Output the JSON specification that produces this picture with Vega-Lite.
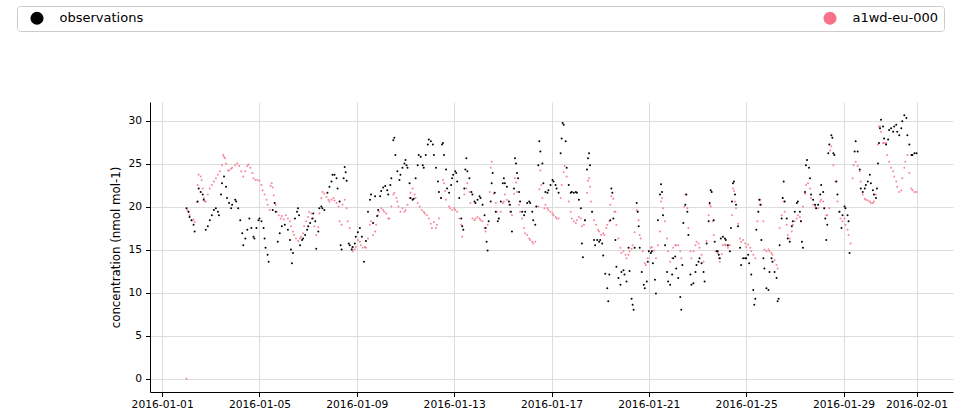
{
"$schema":"https://vega.github.io/schema/vega-lite/v6.json",
"autosize":{"type":"none"},
"padding":{"left":150,"top":102,"right":23,"bottom":25},
"width":803,"height":290,
"config":{"view":{"stroke":null},"font":"DejaVu Sans",
"axis":{"domainColor":"#000","domainWidth":1,"tickColor":"#000","tickSize":4.5,"labelFont":"DejaVu Sans","labelFontSize":10.7,"labelColor":"#000","titleFont":"DejaVu Sans","titleFontSize":11.8,"titleFontWeight":"normal","titleColor":"#000","gridColor":"#dddddd","gridWidth":1},
"legend":{"orient":"none","legendX":-133,"legendY":-96,"direction":"horizontal","columns":2,"columnPadding":672,"padding":5.5,"strokeColor":"#cccccc","fillColor":"#ffffff","cornerRadius":3,"symbolSize":169,"symbolType":"circle","symbolStrokeWidth":0,"symbolOffset":8,"symbolOpacity":1,"labelFont":"DejaVu Sans","labelFontSize":13,"labelColor":"#000","labelOffset":16,"labelLimit":0,"title":null}},
"datasets":{
"obs":[{"h":24,"v":19.8},{"h":26,"v":19.4},{"h":27,"v":18.8},{"h":29,"v":18.4},{"h":31,"v":17.9},{"h":32,"v":17.1},{"h":35,"v":20.6},{"h":36,"v":22.1},{"h":38,"v":21.7},{"h":40,"v":21.4},{"h":41,"v":20.8},{"h":43,"v":17.3},{"h":45,"v":17.7},{"h":47,"v":18.4},{"h":49,"v":19.0},{"h":51,"v":19.6},{"h":53,"v":19.8},{"h":55,"v":19.4},{"h":56,"v":19.0},{"h":58,"v":21.4},{"h":59,"v":22.7},{"h":61,"v":23.5},{"h":63,"v":22.3},{"h":64,"v":21.0},{"h":66,"v":20.4},{"h":68,"v":19.8},{"h":69,"v":20.2},{"h":72,"v":20.8},{"h":73,"v":20.6},{"h":75,"v":19.8},{"h":77,"v":18.4},{"h":79,"v":16.9},{"h":80,"v":15.5},{"h":82,"v":16.3},{"h":84,"v":17.3},{"h":86,"v":18.6},{"h":88,"v":17.5},{"h":90,"v":16.5},{"h":91,"v":16.3},{"h":93,"v":17.5},{"h":95,"v":18.4},{"h":96,"v":18.6},{"h":98,"v":18.3},{"h":100,"v":17.5},{"h":101,"v":16.3},{"h":102,"v":15.2},{"h":104,"v":14.4},{"h":105,"v":13.6},{"h":109,"v":19.6},{"h":111,"v":20.4},{"h":112,"v":19.4},{"h":114,"v":15.9},{"h":116,"v":16.9},{"h":118,"v":17.7},{"h":121,"v":17.9},{"h":124,"v":17.3},{"h":126,"v":16.1},{"h":127,"v":15.0},{"h":128,"v":13.4},{"h":129,"v":14.6},{"h":131,"v":18.6},{"h":133,"v":19.4},{"h":134,"v":19.8},{"h":135,"v":19.0},{"h":136,"v":15.5},{"h":138,"v":16.1},{"h":139,"v":16.3},{"h":141,"v":16.7},{"h":143,"v":17.3},{"h":144,"v":17.7},{"h":146,"v":18.1},{"h":148,"v":18.6},{"h":149,"v":19.2},{"h":151,"v":18.3},{"h":152,"v":15.1},{"h":154,"v":17.1},{"h":155,"v":19.8},{"h":157,"v":20.0},{"h":158,"v":19.8},{"h":160,"v":19.6},{"h":163,"v":21.6},{"h":165,"v":22.3},{"h":167,"v":22.9},{"h":168,"v":23.7},{"h":170,"v":23.7},{"h":172,"v":23.3},{"h":173,"v":22.1},{"h":175,"v":20.6},{"h":176,"v":15.5},{"h":177,"v":15.0},{"h":179,"v":23.3},{"h":180,"v":24.6},{"h":181,"v":24.0},{"h":182,"v":23.0},{"h":184,"v":15.7},{"h":185,"v":15.5},{"h":187,"v":15.0},{"h":188,"v":15.3},{"h":190,"v":15.7},{"h":191,"v":16.5},{"h":193,"v":17.0},{"h":195,"v":17.5},{"h":197,"v":16.5},{"h":199,"v":13.6},{"h":201,"v":16.0},{"h":203,"v":19.4},{"h":205,"v":20.8},{"h":206,"v":21.4},{"h":208,"v":18.1},{"h":210,"v":21.2},{"h":212,"v":18.9},{"h":213,"v":19.6},{"h":215,"v":21.2},{"h":216,"v":21.8},{"h":218,"v":22.2},{"h":220,"v":22.4},{"h":222,"v":21.9},{"h":223,"v":21.4},{"h":225,"v":22.5},{"h":226,"v":23.3},{"h":228,"v":27.7},{"h":229,"v":28.0},{"h":230,"v":26.0},{"h":232,"v":24.1},{"h":234,"v":23.1},{"h":235,"v":23.7},{"h":237,"v":24.5},{"h":239,"v":25.0},{"h":240,"v":25.4},{"h":241,"v":24.8},{"h":242,"v":24.5},{"h":244,"v":22.7},{"h":245,"v":21.0},{"h":247,"v":20.8},{"h":248,"v":20.9},{"h":250,"v":23.3},{"h":252,"v":24.8},{"h":253,"v":26.0},{"h":255,"v":25.8},{"h":257,"v":24.8},{"h":258,"v":24.5},{"h":260,"v":26.0},{"h":262,"v":27.2},{"h":263,"v":27.8},{"h":265,"v":27.6},{"h":267,"v":27.2},{"h":268,"v":26.0},{"h":270,"v":24.5},{"h":272,"v":22.9},{"h":273,"v":21.7},{"h":275,"v":21.0},{"h":276,"v":27.2},{"h":277,"v":27.4},{"h":278,"v":26.0},{"h":280,"v":24.3},{"h":281,"v":22.1},{"h":283,"v":21.6},{"h":285,"v":22.5},{"h":286,"v":23.3},{"h":287,"v":23.7},{"h":289,"v":24.1},{"h":290,"v":23.9},{"h":291,"v":22.9},{"h":293,"v":21.0},{"h":295,"v":18.6},{"h":296,"v":17.7},{"h":297,"v":17.3},{"h":298,"v":22.1},{"h":299,"v":24.3},{"h":300,"v":25.6},{"h":301,"v":24.1},{"h":303,"v":23.3},{"h":305,"v":21.7},{"h":306,"v":21.4},{"h":308,"v":20.6},{"h":309,"v":20.4},{"h":311,"v":20.8},{"h":313,"v":21.2},{"h":314,"v":21.0},{"h":316,"v":20.2},{"h":318,"v":19.0},{"h":319,"v":17.5},{"h":320,"v":15.9},{"h":321,"v":14.9},{"h":322,"v":18.3},{"h":324,"v":20.6},{"h":325,"v":22.7},{"h":326,"v":23.9},{"h":328,"v":21.6},{"h":329,"v":19.4},{"h":331,"v":18.3},{"h":332,"v":18.6},{"h":334,"v":20.6},{"h":336,"v":22.7},{"h":337,"v":23.3},{"h":338,"v":22.7},{"h":340,"v":22.3},{"h":342,"v":20.6},{"h":343,"v":20.2},{"h":344,"v":19.4},{"h":345,"v":17.1},{"h":347,"v":22.1},{"h":348,"v":25.6},{"h":349,"v":25.0},{"h":350,"v":23.9},{"h":351,"v":23.3},{"h":352,"v":21.7},{"h":353,"v":20.6},{"h":355,"v":19.4},{"h":357,"v":19.0},{"h":358,"v":19.4},{"h":360,"v":20.4},{"h":362,"v":20.6},{"h":363,"v":20.4},{"h":365,"v":19.4},{"h":366,"v":18.4},{"h":368,"v":17.9},{"h":369,"v":20.0},{"h":371,"v":24.8},{"h":372,"v":27.6},{"h":373,"v":26.4},{"h":375,"v":25.0},{"h":376,"v":22.7},{"h":378,"v":21.7},{"h":380,"v":21.6},{"h":381,"v":21.9},{"h":383,"v":22.5},{"h":385,"v":23.1},{"h":386,"v":22.9},{"h":388,"v":22.5},{"h":389,"v":22.1},{"h":391,"v":21.6},{"h":393,"v":26.2},{"h":394,"v":27.9},{"h":395,"v":29.7},{"h":396,"v":29.5},{"h":398,"v":27.6},{"h":399,"v":24.5},{"h":401,"v":22.5},{"h":403,"v":21.6},{"h":404,"v":21.7},{"h":406,"v":21.6},{"h":408,"v":21.7},{"h":409,"v":21.6},{"h":411,"v":20.8},{"h":413,"v":19.8},{"h":414,"v":15.7},{"h":415,"v":14.1},{"h":417,"v":18.4},{"h":419,"v":24.3},{"h":420,"v":25.6},{"h":421,"v":26.2},{"h":422,"v":24.8},{"h":424,"v":19.4},{"h":426,"v":16.1},{"h":427,"v":15.5},{"h":429,"v":16.1},{"h":431,"v":15.9},{"h":432,"v":16.1},{"h":434,"v":15.7},{"h":435,"v":14.3},{"h":437,"v":12.2},{"h":439,"v":10.5},{"h":440,"v":9.0},{"h":441,"v":12.1},{"h":442,"v":18.4},{"h":443,"v":22.1},{"h":444,"v":21.6},{"h":445,"v":18.6},{"h":447,"v":16.1},{"h":448,"v":13.0},{"h":450,"v":11.7},{"h":452,"v":10.9},{"h":453,"v":12.4},{"h":455,"v":12.6},{"h":456,"v":12.1},{"h":458,"v":11.3},{"h":460,"v":15.2},{"h":461,"v":12.5},{"h":463,"v":9.3},{"h":464,"v":8.6},{"h":465,"v":8.0},{"h":466,"v":15.2},{"h":468,"v":20.4},{"h":469,"v":19.4},{"h":470,"v":17.7},{"h":471,"v":15.2},{"h":473,"v":12.4},{"h":475,"v":10.9},{"h":476,"v":10.5},{"h":478,"v":11.3},{"h":479,"v":13.6},{"h":480,"v":14.8},{"h":482,"v":14.6},{"h":483,"v":14.8},{"h":484,"v":13.4},{"h":486,"v":11.5},{"h":487,"v":9.9},{"h":489,"v":18.4},{"h":491,"v":21.4},{"h":492,"v":22.6},{"h":493,"v":21.7},{"h":494,"v":19.0},{"h":496,"v":15.5},{"h":498,"v":12.4},{"h":499,"v":11.3},{"h":501,"v":10.9},{"h":503,"v":12.1},{"h":504,"v":14.0},{"h":506,"v":14.2},{"h":507,"v":12.8},{"h":509,"v":11.7},{"h":511,"v":9.5},{"h":512,"v":8.0},{"h":513,"v":13.2},{"h":514,"v":18.1},{"h":516,"v":20.2},{"h":517,"v":21.4},{"h":518,"v":19.4},{"h":519,"v":16.7},{"h":521,"v":12.1},{"h":522,"v":10.9},{"h":524,"v":11.1},{"h":526,"v":12.4},{"h":527,"v":13.2},{"h":529,"v":13.6},{"h":530,"v":14.0},{"h":532,"v":13.4},{"h":534,"v":12.4},{"h":535,"v":11.3},{"h":537,"v":15.7},{"h":539,"v":18.3},{"h":540,"v":20.4},{"h":541,"v":21.9},{"h":542,"v":21.7},{"h":544,"v":18.4},{"h":545,"v":15.9},{"h":547,"v":14.8},{"h":548,"v":14.8},{"h":549,"v":14.4},{"h":550,"v":14.0},{"h":551,"v":16.3},{"h":553,"v":16.5},{"h":555,"v":16.3},{"h":556,"v":16.1},{"h":558,"v":15.5},{"h":560,"v":14.8},{"h":561,"v":17.5},{"h":562,"v":20.6},{"h":563,"v":22.7},{"h":564,"v":22.9},{"h":565,"v":21.4},{"h":566,"v":20.2},{"h":568,"v":17.7},{"h":570,"v":15.2},{"h":571,"v":13.2},{"h":573,"v":14.0},{"h":575,"v":14.0},{"h":576,"v":14.0},{"h":578,"v":14.4},{"h":579,"v":13.4},{"h":581,"v":12.1},{"h":583,"v":10.3},{"h":584,"v":8.6},{"h":585,"v":9.3},{"h":586,"v":17.3},{"h":588,"v":19.4},{"h":589,"v":20.8},{"h":590,"v":20.2},{"h":591,"v":16.1},{"h":593,"v":14.0},{"h":594,"v":12.8},{"h":596,"v":10.5},{"h":598,"v":10.3},{"h":599,"v":12.4},{"h":601,"v":14.0},{"h":602,"v":13.6},{"h":604,"v":12.4},{"h":606,"v":11.7},{"h":607,"v":9.0},{"h":608,"v":9.3},{"h":609,"v":15.5},{"h":611,"v":18.6},{"h":612,"v":21.0},{"h":613,"v":22.9},{"h":614,"v":20.6},{"h":616,"v":18.6},{"h":617,"v":16.3},{"h":619,"v":15.9},{"h":621,"v":17.7},{"h":622,"v":18.3},{"h":624,"v":19.4},{"h":626,"v":20.4},{"h":627,"v":20.6},{"h":629,"v":19.4},{"h":630,"v":18.3},{"h":631,"v":15.9},{"h":632,"v":15.2},{"h":634,"v":21.7},{"h":635,"v":24.8},{"h":636,"v":25.4},{"h":638,"v":24.5},{"h":639,"v":23.3},{"h":640,"v":21.4},{"h":642,"v":20.8},{"h":644,"v":20.2},{"h":645,"v":19.8},{"h":647,"v":20.2},{"h":649,"v":21.4},{"h":650,"v":22.5},{"h":652,"v":21.7},{"h":653,"v":19.8},{"h":654,"v":18.6},{"h":655,"v":16.1},{"h":656,"v":17.9},{"h":657,"v":26.2},{"h":658,"v":27.2},{"h":660,"v":28.3},{"h":661,"v":28.0},{"h":662,"v":26.2},{"h":663,"v":26.0},{"h":665,"v":22.9},{"h":666,"v":21.4},{"h":668,"v":19.4},{"h":670,"v":17.5},{"h":671,"v":19.0},{"h":673,"v":20.0},{"h":674,"v":19.8},{"h":676,"v":19.0},{"h":677,"v":18.3},{"h":678,"v":14.6},{"h":683,"v":26.4},{"h":684,"v":27.6},{"h":686,"v":26.4},{"h":688,"v":24.3},{"h":689,"v":22.1},{"h":691,"v":21.7},{"h":693,"v":22.1},{"h":694,"v":22.5},{"h":696,"v":22.9},{"h":698,"v":23.7},{"h":699,"v":22.7},{"h":701,"v":21.9},{"h":702,"v":21.4},{"h":704,"v":21.0},{"h":705,"v":22.1},{"h":706,"v":25.0},{"h":707,"v":27.4},{"h":708,"v":29.1},{"h":709,"v":30.1},{"h":711,"v":29.3},{"h":712,"v":27.9},{"h":714,"v":27.2},{"h":716,"v":27.8},{"h":717,"v":28.9},{"h":719,"v":29.1},{"h":721,"v":28.7},{"h":722,"v":29.3},{"h":724,"v":29.5},{"h":725,"v":28.7},{"h":727,"v":28.3},{"h":729,"v":29.1},{"h":730,"v":29.9},{"h":732,"v":30.6},{"h":734,"v":30.3},{"h":735,"v":28.3},{"h":737,"v":27.2},{"h":739,"v":26.0},{"h":740,"v":26.0},{"h":742,"v":26.2},{"h":744,"v":26.2}],
"mod":[{"h":24,"v":0},{"h":25,"v":19.6},{"h":26,"v":19.4},{"h":27,"v":19.0},{"h":29,"v":18.4},{"h":31,"v":18.5},{"h":32,"v":18.2},{"h":34,"v":20.5},{"h":35,"v":22.5},{"h":36,"v":23.7},{"h":38,"v":23.5},{"h":39,"v":23.1},{"h":40,"v":22.1},{"h":41,"v":21.0},{"h":42,"v":20.6},{"h":43,"v":20.6},{"h":45,"v":21.4},{"h":47,"v":22.1},{"h":49,"v":22.5},{"h":51,"v":22.9},{"h":53,"v":23.3},{"h":55,"v":23.7},{"h":57,"v":24.1},{"h":59,"v":24.8},{"h":60,"v":26.0},{"h":61,"v":25.8},{"h":62,"v":25.6},{"h":63,"v":25.0},{"h":65,"v":24.2},{"h":66,"v":24.2},{"h":68,"v":24.4},{"h":69,"v":24.5},{"h":72,"v":24.8},{"h":74,"v":25.0},{"h":76,"v":24.7},{"h":78,"v":24.1},{"h":80,"v":23.5},{"h":82,"v":24.1},{"h":84,"v":24.7},{"h":85,"v":24.9},{"h":87,"v":24.5},{"h":89,"v":23.9},{"h":90,"v":23.3},{"h":92,"v":23.1},{"h":94,"v":23.1},{"h":96,"v":23.0},{"h":98,"v":22.5},{"h":99,"v":21.9},{"h":101,"v":21.4},{"h":103,"v":20.8},{"h":104,"v":20.2},{"h":106,"v":19.6},{"h":107,"v":22.4},{"h":108,"v":22.7},{"h":109,"v":22.2},{"h":110,"v":21.3},{"h":112,"v":20.2},{"h":113,"v":19.4},{"h":115,"v":19.0},{"h":117,"v":18.6},{"h":118,"v":18.9},{"h":120,"v":18.5},{"h":122,"v":19.0},{"h":124,"v":18.6},{"h":126,"v":18.3},{"h":127,"v":17.7},{"h":129,"v":17.1},{"h":130,"v":16.7},{"h":132,"v":16.3},{"h":134,"v":16.0},{"h":136,"v":16.3},{"h":137,"v":16.5},{"h":139,"v":16.9},{"h":140,"v":17.7},{"h":142,"v":18.3},{"h":144,"v":18.8},{"h":145,"v":19.4},{"h":147,"v":19.2},{"h":149,"v":18.6},{"h":150,"v":17.7},{"h":152,"v":16.7},{"h":154,"v":17.6},{"h":155,"v":19.2},{"h":157,"v":21.0},{"h":158,"v":21.7},{"h":160,"v":21.5},{"h":162,"v":21.1},{"h":164,"v":20.8},{"h":165,"v":20.6},{"h":167,"v":20.8},{"h":169,"v":21.0},{"h":170,"v":20.7},{"h":172,"v":20.4},{"h":174,"v":20.0},{"h":175,"v":18.3},{"h":177,"v":17.9},{"h":178,"v":20.2},{"h":180,"v":20.8},{"h":182,"v":19.8},{"h":183,"v":18.3},{"h":185,"v":17.5},{"h":187,"v":15.2},{"h":188,"v":14.8},{"h":190,"v":15.0},{"h":191,"v":15.3},{"h":193,"v":16.1},{"h":195,"v":15.9},{"h":196,"v":15.5},{"h":198,"v":15.2},{"h":200,"v":15.3},{"h":201,"v":15.2},{"h":203,"v":16.3},{"h":205,"v":17.9},{"h":206,"v":18.3},{"h":208,"v":16.7},{"h":210,"v":17.1},{"h":211,"v":17.9},{"h":213,"v":19.0},{"h":214,"v":19.4},{"h":216,"v":19.8},{"h":218,"v":19.6},{"h":219,"v":19.4},{"h":221,"v":19.2},{"h":223,"v":18.6},{"h":224,"v":18.6},{"h":226,"v":20.0},{"h":228,"v":21.4},{"h":229,"v":21.6},{"h":231,"v":21.0},{"h":232,"v":20.6},{"h":233,"v":20.0},{"h":235,"v":19.4},{"h":237,"v":19.8},{"h":239,"v":19.4},{"h":240,"v":19.6},{"h":242,"v":20.2},{"h":244,"v":21.0},{"h":245,"v":21.6},{"h":247,"v":22.1},{"h":249,"v":21.4},{"h":250,"v":21.0},{"h":252,"v":20.4},{"h":254,"v":20.0},{"h":256,"v":19.6},{"h":258,"v":19.4},{"h":259,"v":19.2},{"h":261,"v":19.0},{"h":263,"v":18.6},{"h":265,"v":18.0},{"h":266,"v":17.5},{"h":268,"v":18.2},{"h":270,"v":17.5},{"h":271,"v":17.9},{"h":273,"v":18.6},{"h":275,"v":21.0},{"h":277,"v":23.1},{"h":278,"v":22.7},{"h":279,"v":21.8},{"h":280,"v":20.8},{"h":283,"v":20.0},{"h":284,"v":19.8},{"h":286,"v":19.6},{"h":288,"v":19.8},{"h":289,"v":19.6},{"h":291,"v":19.4},{"h":293,"v":18.6},{"h":295,"v":17.9},{"h":296,"v":16.5},{"h":298,"v":21.4},{"h":300,"v":22.1},{"h":301,"v":22.7},{"h":303,"v":21.7},{"h":304,"v":20.4},{"h":306,"v":18.6},{"h":308,"v":18.4},{"h":309,"v":18.6},{"h":311,"v":18.8},{"h":313,"v":18.6},{"h":314,"v":18.4},{"h":316,"v":18.3},{"h":318,"v":17.5},{"h":319,"v":17.1},{"h":321,"v":17.9},{"h":323,"v":21.7},{"h":324,"v":24.5},{"h":325,"v":25.2},{"h":327,"v":21.5},{"h":329,"v":20.4},{"h":330,"v":19.4},{"h":332,"v":18.6},{"h":334,"v":19.4},{"h":336,"v":20.4},{"h":337,"v":20.6},{"h":338,"v":21.4},{"h":340,"v":20.8},{"h":342,"v":20.2},{"h":343,"v":19.4},{"h":345,"v":19.0},{"h":347,"v":21.5},{"h":348,"v":23.3},{"h":349,"v":22.8},{"h":350,"v":21.7},{"h":352,"v":20.2},{"h":353,"v":19.4},{"h":355,"v":18.6},{"h":357,"v":17.5},{"h":358,"v":16.9},{"h":360,"v":16.7},{"h":362,"v":16.3},{"h":363,"v":16.1},{"h":365,"v":15.9},{"h":366,"v":15.7},{"h":368,"v":15.9},{"h":371,"v":20.0},{"h":372,"v":22.0},{"h":373,"v":24.2},{"h":374,"v":22.5},{"h":375,"v":21.0},{"h":377,"v":19.8},{"h":378,"v":20.2},{"h":380,"v":19.8},{"h":381,"v":19.6},{"h":383,"v":19.4},{"h":385,"v":19.2},{"h":386,"v":19.0},{"h":388,"v":18.8},{"h":389,"v":18.6},{"h":391,"v":18.6},{"h":393,"v":21.0},{"h":394,"v":22.5},{"h":396,"v":24.0},{"h":397,"v":24.7},{"h":399,"v":23.5},{"h":401,"v":20.6},{"h":403,"v":19.4},{"h":404,"v":18.6},{"h":406,"v":18.3},{"h":408,"v":18.1},{"h":409,"v":18.4},{"h":411,"v":18.8},{"h":413,"v":18.6},{"h":414,"v":17.7},{"h":416,"v":17.9},{"h":417,"v":18.4},{"h":419,"v":21.6},{"h":420,"v":23.0},{"h":421,"v":23.3},{"h":422,"v":22.3},{"h":423,"v":20.6},{"h":424,"v":19.4},{"h":426,"v":18.4},{"h":428,"v":17.9},{"h":430,"v":17.3},{"h":431,"v":17.1},{"h":433,"v":16.7},{"h":435,"v":16.9},{"h":436,"v":16.7},{"h":438,"v":17.5},{"h":439,"v":17.9},{"h":441,"v":18.3},{"h":442,"v":20.2},{"h":443,"v":21.2},{"h":445,"v":20.9},{"h":446,"v":19.4},{"h":447,"v":19.4},{"h":448,"v":17.9},{"h":450,"v":16.3},{"h":452,"v":15.2},{"h":453,"v":14.6},{"h":455,"v":14.8},{"h":457,"v":14.4},{"h":458,"v":14.0},{"h":460,"v":14.4},{"h":461,"v":14.8},{"h":463,"v":15.1},{"h":464,"v":15.5},{"h":466,"v":17.0},{"h":468,"v":19.6},{"h":469,"v":19.4},{"h":470,"v":18.4},{"h":471,"v":16.7},{"h":472,"v":16.3},{"h":474,"v":14.8},{"h":476,"v":13.4},{"h":477,"v":13.2},{"h":479,"v":14.0},{"h":480,"v":14.8},{"h":482,"v":15.2},{"h":483,"v":15.3},{"h":485,"v":14.9},{"h":487,"v":14.0},{"h":489,"v":15.5},{"h":491,"v":17.1},{"h":492,"v":20.6},{"h":493,"v":21.0},{"h":494,"v":19.8},{"h":496,"v":18.3},{"h":498,"v":16.3},{"h":499,"v":14.8},{"h":501,"v":13.6},{"h":503,"v":14.0},{"h":504,"v":15.2},{"h":506,"v":15.5},{"h":507,"v":15.5},{"h":509,"v":15.5},{"h":511,"v":14.8},{"h":512,"v":14.0},{"h":515,"v":20.0},{"h":516,"v":21.4},{"h":518,"v":19.8},{"h":519,"v":17.5},{"h":521,"v":14.8},{"h":522,"v":14.0},{"h":524,"v":14.8},{"h":526,"v":15.5},{"h":527,"v":15.9},{"h":529,"v":15.7},{"h":530,"v":15.2},{"h":532,"v":14.4},{"h":534,"v":13.6},{"h":537,"v":16.0},{"h":539,"v":19.0},{"h":540,"v":20.2},{"h":541,"v":20.0},{"h":543,"v":18.3},{"h":544,"v":16.7},{"h":546,"v":14.8},{"h":548,"v":14.6},{"h":549,"v":14.0},{"h":550,"v":13.6},{"h":552,"v":14.5},{"h":553,"v":15.5},{"h":555,"v":15.6},{"h":556,"v":15.5},{"h":558,"v":15.2},{"h":560,"v":15.5},{"h":562,"v":19.0},{"h":563,"v":22.1},{"h":564,"v":21.8},{"h":565,"v":20.6},{"h":566,"v":19.8},{"h":568,"v":18.0},{"h":570,"v":16.3},{"h":571,"v":15.9},{"h":573,"v":16.1},{"h":575,"v":15.7},{"h":576,"v":15.3},{"h":578,"v":15.6},{"h":580,"v":15.2},{"h":581,"v":14.8},{"h":583,"v":14.4},{"h":585,"v":14.0},{"h":587,"v":18.3},{"h":588,"v":19.4},{"h":589,"v":20.8},{"h":590,"v":20.8},{"h":591,"v":20.2},{"h":593,"v":18.3},{"h":594,"v":15.0},{"h":596,"v":14.8},{"h":598,"v":15.0},{"h":599,"v":14.8},{"h":601,"v":14.6},{"h":602,"v":14.4},{"h":604,"v":13.8},{"h":606,"v":13.2},{"h":607,"v":12.8},{"h":609,"v":17.5},{"h":611,"v":19.0},{"h":612,"v":21.0},{"h":613,"v":20.6},{"h":614,"v":19.4},{"h":616,"v":17.9},{"h":617,"v":16.7},{"h":619,"v":16.3},{"h":621,"v":17.1},{"h":622,"v":17.9},{"h":624,"v":18.3},{"h":626,"v":18.6},{"h":627,"v":19.0},{"h":629,"v":18.8},{"h":630,"v":18.3},{"h":632,"v":20.0},{"h":634,"v":21.5},{"h":635,"v":22.5},{"h":637,"v":22.7},{"h":639,"v":22.1},{"h":640,"v":21.0},{"h":642,"v":20.2},{"h":644,"v":20.0},{"h":645,"v":19.8},{"h":647,"v":19.8},{"h":649,"v":20.6},{"h":650,"v":20.8},{"h":652,"v":20.6},{"h":653,"v":19.8},{"h":655,"v":19.0},{"h":656,"v":19.0},{"h":658,"v":19.8},{"h":659,"v":26.5},{"h":660,"v":27.0},{"h":662,"v":24.8},{"h":664,"v":22.9},{"h":666,"v":20.6},{"h":668,"v":19.4},{"h":669,"v":18.6},{"h":671,"v":18.3},{"h":673,"v":18.6},{"h":674,"v":17.9},{"h":676,"v":17.3},{"h":677,"v":16.7},{"h":679,"v":15.7},{"h":681,"v":23.3},{"h":682,"v":24.8},{"h":684,"v":25.2},{"h":686,"v":24.7},{"h":688,"v":24.1},{"h":689,"v":22.9},{"h":691,"v":21.4},{"h":693,"v":20.9},{"h":694,"v":20.8},{"h":696,"v":20.7},{"h":698,"v":20.6},{"h":699,"v":20.4},{"h":701,"v":20.4},{"h":702,"v":20.6},{"h":704,"v":21.4},{"h":706,"v":27.2},{"h":707,"v":29.3},{"h":708,"v":29.3},{"h":709,"v":28.7},{"h":711,"v":27.4},{"h":712,"v":27.4},{"h":714,"v":27.4},{"h":715,"v":26.0},{"h":717,"v":25.2},{"h":719,"v":24.5},{"h":721,"v":24.1},{"h":722,"v":23.5},{"h":724,"v":22.9},{"h":725,"v":22.3},{"h":727,"v":21.7},{"h":729,"v":21.9},{"h":730,"v":23.3},{"h":732,"v":24.5},{"h":733,"v":25.2},{"h":735,"v":26.0},{"h":737,"v":23.9},{"h":739,"v":22.1},{"h":740,"v":21.9},{"h":742,"v":21.7},{"h":744,"v":21.7}]
},
"layer":[
{"data":{"name":"mod"},"mark":{"type":"point","filled":true,"size":4,"opacity":0.85},
"encoding":{
"x":{"field":"h","type":"quantitative","scale":{"domain":[-12,780],"nice":false,"zero":false},
"axis":{"title":null,"values":[0,96,192,288,384,480,576,672,744],"labelExpr":"timeFormat(time(datetime(2016,0,1)) + datum.value*3600000, '%Y-%m-%d')","grid":true,"labelFlush":false,"labelOverlap":false,"labelPadding":3}},
"y":{"field":"v","type":"quantitative","scale":{"domain":[-1.55,32.15],"nice":false,"zero":false},
"axis":{"title":"concentration (nmol mol-1)","values":[0,5,10,15,20,25,30],"grid":true,"labelPadding":4,"titlePadding":6}},
"color":{"datum":"a1wd-eu-000","type":"nominal","scale":{"domain":["observations","a1wd-eu-000"],"range":["#000000","#f77189"]}}}},
{"data":{"name":"obs"},"mark":{"type":"point","filled":true,"size":4,"opacity":1},
"encoding":{
"x":{"field":"h","type":"quantitative"},
"y":{"field":"v","type":"quantitative"},
"color":{"datum":"observations","type":"nominal"}}}
]
}
